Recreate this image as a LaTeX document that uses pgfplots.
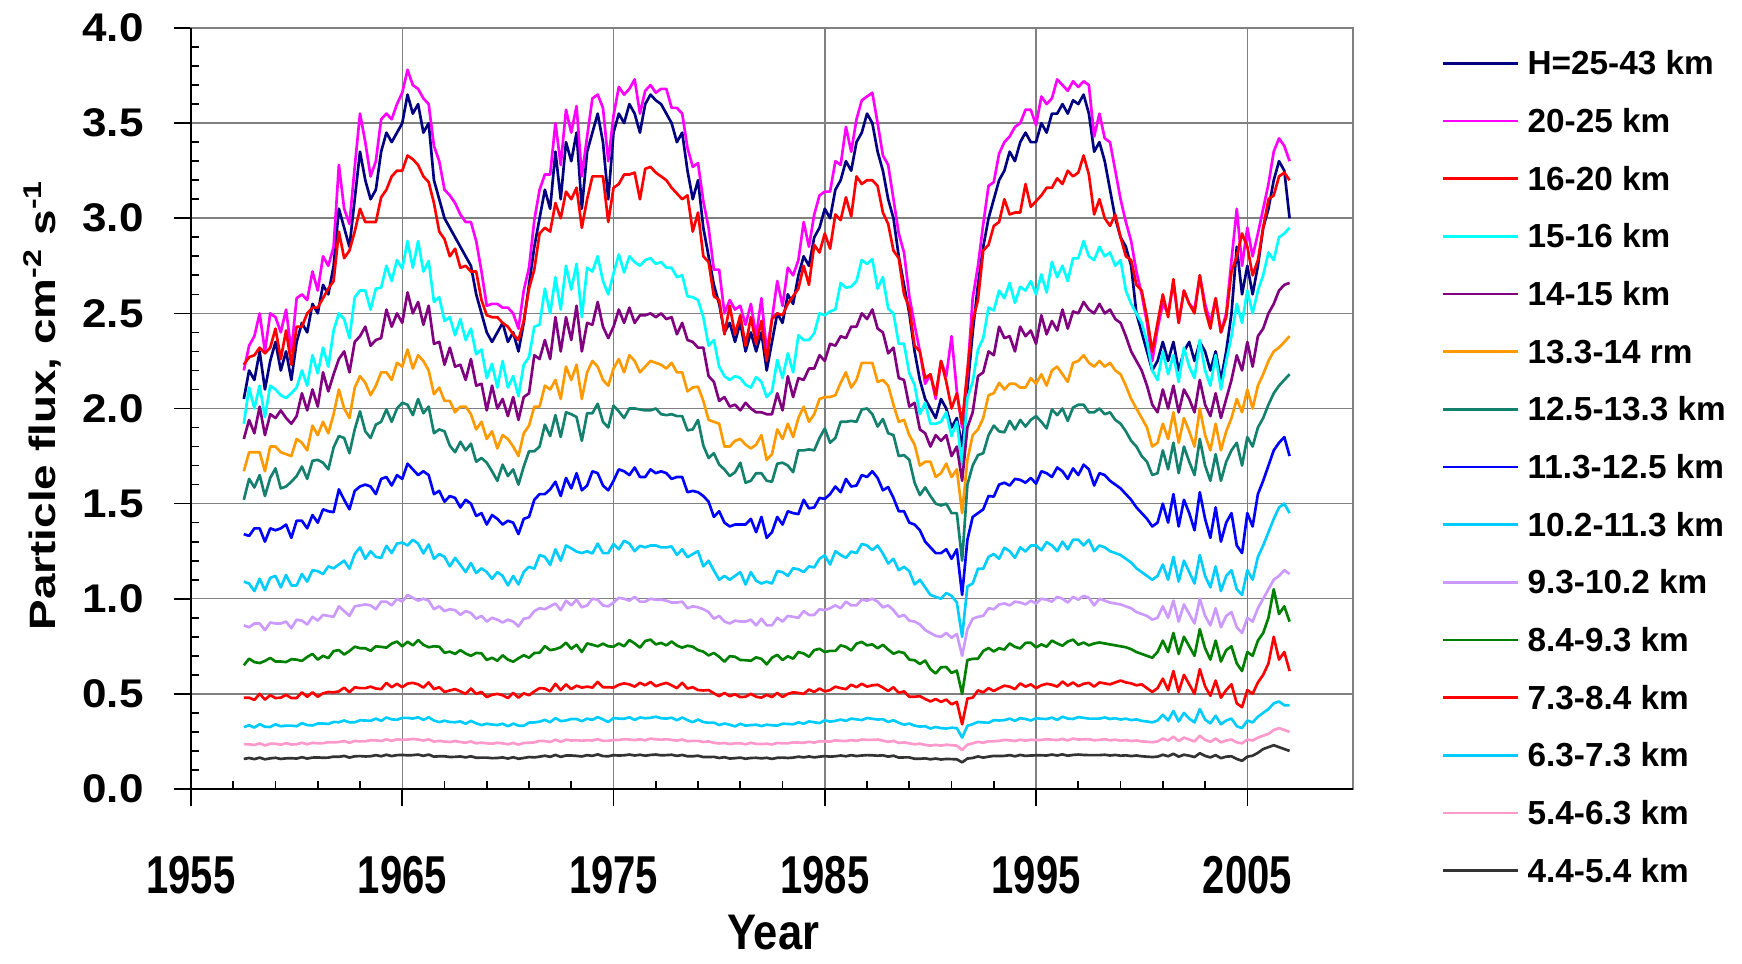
\documentclass[border=0pt]{standalone}
\usepackage{graphicx}
\usepackage{fontspec}
\setmainfont{Liberation Sans}
\usepackage{pgfplots}
\usepackage{pgfplotstable}
\pgfplotsset{compat=1.18}

\definecolor{cH}{RGB}{0,0,128}
\definecolor{cA}{RGB}{255,0,255}
\definecolor{cB}{RGB}{255,0,0}
\definecolor{cC}{RGB}{0,255,255}
\definecolor{cD}{RGB}{128,0,128}
\definecolor{cE}{RGB}{255,153,0}
\definecolor{cF}{RGB}{20,128,110}
\definecolor{cG}{RGB}{0,0,255}
\definecolor{cI}{RGB}{0,204,255}
\definecolor{cJ}{RGB}{204,153,255}
\definecolor{cK}{RGB}{0,128,0}
\definecolor{cL}{RGB}{255,0,0}
\definecolor{cM}{RGB}{0,204,255}
\definecolor{cN}{RGB}{255,153,204}
\definecolor{cO}{RGB}{51,51,51}

% Quarterly particle flux by altitude layer (cm^-2 s^-1)
\pgfplotstableread{
yr N M R C P O T B L V G Rb S K D
1957.50 2.05 2.20 2.23 1.92 1.84 1.67 1.52 1.34 1.09 0.86 0.65 0.48 0.325 0.236 0.158
1957.75 2.20 2.33 2.27 2.11 1.94 1.77 1.63 1.33 1.08 0.85 0.685 0.48 0.335 0.235 0.163
1958.00 2.15 2.38 2.28 2.00 1.87 1.77 1.585 1.37 1.04 0.87 0.667 0.468 0.323 0.231 0.157
1958.25 2.30 2.50 2.32 2.12 2.01 1.77 1.65 1.37 1.105 0.87 0.662 0.50 0.341 0.240 0.165
1958.50 2.10 2.30 2.29 1.955 1.86 1.67 1.54 1.30 1.045 0.835 0.673 0.47 0.327 0.229 0.156
1958.75 2.25 2.50 2.32 2.12 1.97 1.80 1.635 1.37 1.11 0.875 0.689 0.493 0.326 0.238 0.161
1959.00 2.35 2.48 2.42 2.10 1.95 1.80 1.685 1.36 1.12 0.87 0.67 0.478 0.340 0.238 0.164
1959.25 2.20 2.40 2.26 2.07 1.99 1.77 1.58 1.37 1.06 0.87 0.67 0.48 0.33 0.233 0.158
1959.50 2.30 2.52 2.41 2.055 1.95 1.76 1.59 1.39 1.125 0.88 0.667 0.495 0.333 0.241 0.161
1959.75 2.15 2.30 2.23 2.08 1.92 1.75 1.615 1.32 1.07 0.845 0.682 0.478 0.333 0.234 0.162
1960.00 2.35 2.58 2.43 2.11 1.96 1.84 1.645 1.41 1.07 0.89 0.68 0.478 0.330 0.235 0.160
1960.25 2.45 2.60 2.43 2.20 2.08 1.82 1.695 1.41 1.13 0.885 0.673 0.508 0.346 0.243 0.167
1960.50 2.40 2.57 2.50 2.12 1.99 1.78 1.63 1.37 1.09 0.865 0.694 0.485 0.336 0.235 0.160
1960.75 2.55 2.72 2.53 2.28 2.10 1.91 1.725 1.44 1.15 0.905 0.71 0.508 0.334 0.243 0.165
1961.00 2.50 2.62 2.53 2.185 2.01 1.86 1.73 1.40 1.145 0.885 0.68 0.485 0.344 0.240 0.166
1961.25 2.65 2.80 2.58 2.32 2.19 1.93 1.715 1.47 1.13 0.915 0.70 0.503 0.344 0.241 0.164
1961.50 2.60 2.75 2.63 2.22 2.09 1.87 1.68 1.46 1.17 0.91 0.688 0.51 0.342 0.246 0.165
1961.75 2.75 2.85 2.67 2.41 2.18 1.97 1.795 1.455 1.16 0.905 0.725 0.508 0.352 0.245 0.170
1962.00 3.05 3.28 2.93 2.50 2.26 2.10 1.855 1.575 1.18 0.96 0.73 0.513 0.351 0.247 0.169
1962.25 2.95 3.05 2.79 2.47 2.30 2.00 1.845 1.52 1.20 0.935 0.707 0.533 0.360 0.252 0.174
1962.50 2.85 2.97 2.83 2.37 2.19 1.95 1.765 1.47 1.158 0.91 0.725 0.508 0.35 0.243 0.165
1962.75 3.10 3.27 2.93 2.585 2.35 2.11 1.89 1.567 1.235 0.96 0.748 0.535 0.351 0.253 0.172
1963.00 3.35 3.55 3.05 2.62 2.38 2.17 1.985 1.59 1.27 0.965 0.74 0.53 0.361 0.250 0.173
1963.25 3.20 3.40 2.98 2.62 2.43 2.135 1.88 1.60 1.21 0.97 0.74 0.53 0.36 0.251 0.171
1963.50 3.10 3.22 2.98 2.52 2.33 2.07 1.845 1.59 1.25 0.965 0.726 0.538 0.358 0.256 0.172
1963.75 3.15 3.30 2.98 2.63 2.36 2.12 1.915 1.55 1.22 0.945 0.75 0.528 0.37 0.256 0.178
1964.00 3.35 3.52 3.11 2.635 2.37 2.19 1.93 1.63 1.215 0.985 0.747 0.525 0.358 0.252 0.172
1964.25 3.45 3.55 3.15 2.75 2.52 2.19 1.995 1.64 1.278 0.985 0.743 0.558 0.376 0.261 0.180
1964.50 3.40 3.52 3.22 2.67 2.43 2.15 1.93 1.595 1.24 0.965 0.764 0.535 0.366 0.253 0.173
1964.75 3.45 3.60 3.25 2.78 2.50 2.24 2.00 1.65 1.29 1.00 0.775 0.553 0.364 0.261 0.178
1965.00 3.50 3.66 3.25 2.735 2.45 2.22 2.03 1.63 1.295 0.985 0.75 0.535 0.374 0.258 0.179
1965.25 3.65 3.78 3.33 2.88 2.61 2.31 2.02 1.71 1.28 1.02 0.774 0.554 0.374 0.26 0.177
1965.50 3.55 3.70 3.31 2.74 2.50 2.21 1.965 1.68 1.31 1.005 0.755 0.558 0.370 0.263 0.178
1965.75 3.60 3.68 3.28 2.88 2.56 2.28 2.05 1.65 1.29 0.99 0.783 0.55 0.377 0.26 0.181
1966.00 3.45 3.63 3.22 2.72 2.44 2.25 1.975 1.67 1.238 1.00 0.758 0.533 0.363 0.255 0.174
1966.25 3.50 3.60 3.19 2.775 2.54 2.20 2.01 1.65 1.285 0.99 0.745 0.56 0.377 0.261 0.181
1966.50 3.20 3.38 3.08 2.56 2.34 2.075 1.87 1.55 1.21 0.945 0.75 0.525 0.36 0.249 0.170
1966.75 3.10 3.30 2.93 2.585 2.35 2.11 1.89 1.567 1.235 0.96 0.748 0.535 0.351 0.253 0.172
1967.00 3.00 3.15 2.89 2.46 2.23 2.04 1.88 1.51 1.22 0.935 0.716 0.51 0.359 0.249 0.172
1967.25 2.95 3.12 2.80 2.48 2.32 2.04 1.805 1.54 1.17 0.945 0.722 0.518 0.352 0.247 0.168
1967.50 2.90 3.08 2.84 2.385 2.22 1.98 1.77 1.53 1.215 0.94 0.71 0.525 0.351 0.252 0.169
1967.75 2.85 3.02 2.74 2.47 2.23 2.01 1.825 1.48 1.178 0.915 0.73 0.513 0.355 0.247 0.171
1968.00 2.80 2.98 2.75 2.36 2.15 2.01 1.78 1.52 1.14 0.935 0.712 0.50 0.343 0.243 0.166
1968.25 2.75 2.98 2.72 2.42 2.26 1.97 1.815 1.50 1.188 0.925 0.70 0.528 0.358 0.25 0.172
1968.50 2.60 2.88 2.72 2.285 2.12 1.89 1.72 1.435 1.135 0.895 0.715 0.50 0.345 0.24 0.164
1968.75 2.50 2.72 2.57 2.31 2.13 1.93 1.74 1.45 1.16 0.91 0.713 0.51 0.336 0.244 0.165
1969.00 2.40 2.54 2.49 2.16 1.99 1.84 1.715 1.39 1.14 0.88 0.678 0.483 0.343 0.24 0.165
1969.25 2.35 2.55 2.48 2.235 2.12 1.88 1.67 1.44 1.105 0.90 0.69 0.495 0.339 0.238 0.162
1969.50 2.40 2.55 2.48 2.11 2.00 1.79 1.62 1.42 1.14 0.89 0.674 0.50 0.336 0.243 0.163
1969.75 2.45 2.53 2.45 2.25 2.05 1.86 1.705 1.39 1.12 0.875 0.703 0.493 0.343 0.24 0.166
1970.00 2.35 2.53 2.43 2.11 1.96 1.84 1.645 1.41 1.07 0.89 0.68 0.478 0.33 0.235 0.160
1970.25 2.40 2.50 2.39 2.17 2.06 1.80 1.68 1.40 1.12 0.88 0.669 0.505 0.344 0.242 0.167
1970.50 2.30 2.42 2.36 2.065 1.94 1.75 1.60 1.34 1.075 0.855 0.687 0.48 0.333 0.233 0.159
1970.75 2.45 2.62 2.46 2.23 2.06 1.87 1.695 1.42 1.14 0.895 0.703 0.503 0.332 0.242 0.163
1971.00 2.65 2.74 2.63 2.27 2.08 1.91 1.775 1.43 1.168 0.90 0.69 0.493 0.349 0.243 0.168
1971.25 2.85 2.99 2.73 2.43 2.28 2.01 1.775 1.52 1.158 0.935 0.715 0.513 0.35 0.245 0.166
1971.50 3.00 3.15 2.92 2.44 2.26 2.01 1.80 1.55 1.23 0.95 0.716 0.53 0.354 0.253 0.170
1971.75 3.15 3.23 2.95 2.63 2.36 2.12 1.915 1.55 1.22 0.945 0.751 0.528 0.363 0.252 0.175
1972.00 3.05 3.23 2.93 2.50 2.26 2.10 1.855 1.575 1.178 0.96 0.73 0.513 0.351 0.247 0.169
1972.25 3.35 3.50 3.08 2.69 2.48 2.15 1.965 1.615 1.26 0.975 0.735 0.553 0.373 0.259 0.179
1972.50 3.10 3.28 3.00 2.52 2.30 2.05 1.85 1.54 1.20 0.94 0.745 0.52 0.357 0.248 0.169
1972.75 3.40 3.57 3.14 2.75 2.48 2.22 1.98 1.635 1.28 0.99 0.769 0.55 0.36 0.259 0.176
1973.00 3.30 3.45 3.10 2.625 2.36 2.15 1.97 1.58 1.265 0.965 0.737 0.525 0.368 0.255 0.176
1973.25 3.45 3.59 3.16 2.76 2.54 2.23 1.955 1.66 1.248 0.995 0.758 0.543 0.368 0.256 0.174
1973.50 3.05 3.22 2.95 2.48 2.30 2.05 1.83 1.57 1.24 0.955 0.72 0.533 0.356 0.254 0.171
1973.75 3.35 3.43 3.10 2.74 2.45 2.19 1.975 1.595 1.25 0.965 0.765 0.538 0.37 0.256 0.178
1974.00 3.45 3.63 3.22 2.72 2.44 2.25 1.975 1.67 1.238 1.00 0.758 0.533 0.363 0.255 0.174
1974.25 3.55 3.65 3.22 2.80 2.56 2.22 2.025 1.66 1.29 0.995 0.75 0.563 0.378 0.262 0.182
1974.50 3.40 3.58 3.22 2.67 2.43 2.15 1.93 1.595 1.24 0.965 0.764 0.535 0.366 0.253 0.173
1974.75 3.10 3.30 2.98 2.60 2.37 2.12 1.90 1.57 1.24 0.96 0.75 0.535 0.352 0.253 0.172
1975.00 3.45 3.54 3.16 2.71 2.43 2.21 2.015 1.62 1.288 0.98 0.748 0.533 0.373 0.258 0.178
1975.25 3.55 3.69 3.18 2.81 2.52 2.26 1.985 1.68 1.26 1.005 0.765 0.548 0.37 0.257 0.176
1975.50 3.50 3.65 3.23 2.715 2.45 2.19 1.95 1.67 1.305 1.00 0.75 0.555 0.369 0.262 0.177
1975.75 3.60 3.68 3.23 2.80 2.53 2.28 2.00 1.65 1.29 0.99 0.783 0.55 0.377 0.26 0.181
1976.00 3.55 3.73 3.24 2.77 2.45 2.25 2.00 1.69 1.25 1.01 0.765 0.538 0.363 0.257 0.176
1976.25 3.45 3.55 3.10 2.75 2.49 2.19 1.995 1.64 1.278 0.985 0.743 0.558 0.376 0.261 0.180
1976.50 3.60 3.67 3.26 2.78 2.49 2.22 1.99 1.64 1.27 0.985 0.778 0.545 0.372 0.256 0.175
1976.75 3.65 3.70 3.27 2.79 2.50 2.25 1.99 1.68 1.28 1.00 0.785 0.563 0.374 0.265 0.179
1977.00 3.62 3.66 3.24 2.76 2.48 2.24 2.00 1.66 1.28 0.995 0.76 0.54 0.38 0.261 0.181
1977.25 3.60 3.68 3.22 2.77 2.50 2.23 1.97 1.67 1.27 0.995 0.768 0.55 0.372 0.259 0.177
1977.50 3.55 3.68 3.20 2.74 2.47 2.21 1.965 1.66 1.27 0.99 0.755 0.558 0.37 0.262 0.178
1977.75 3.50 3.58 3.16 2.74 2.48 2.24 1.97 1.63 1.275 0.98 0.775 0.545 0.375 0.258 0.180
1978.00 3.40 3.58 3.13 2.69 2.39 2.19 1.96 1.64 1.23 0.98 0.754 0.53 0.361 0.254 0.174
1978.25 3.45 3.55 3.10 2.70 2.45 2.19 1.96 1.64 1.26 0.985 0.743 0.558 0.376 0.26 0.179
1978.50 3.25 3.37 3.12 2.59 2.36 2.09 1.885 1.56 1.218 0.95 0.753 0.528 0.362 0.251 0.172
1978.75 3.10 3.27 2.93 2.585 2.35 2.11 1.89 1.567 1.235 0.96 0.748 0.535 0.351 0.253 0.172
1979.00 3.20 3.29 3.03 2.57 2.32 2.115 1.94 1.56 1.25 0.955 0.73 0.52 0.365 0.253 0.175
1979.25 2.95 3.09 2.80 2.48 2.32 2.04 1.805 1.54 1.17 0.945 0.722 0.518 0.352 0.247 0.168
1979.50 2.80 2.95 2.77 2.33 2.17 1.94 1.74 1.51 1.20 0.93 0.702 0.52 0.348 0.25 0.168
1979.75 2.65 2.73 2.59 2.36 2.14 1.93 1.765 1.43 1.148 0.895 0.715 0.503 0.349 0.243 0.169
1980.00 2.55 2.73 2.57 2.22 2.04 1.92 1.705 1.46 1.10 0.91 0.695 0.488 0.336 0.239 0.163
1980.25 2.40 2.50 2.39 2.17 2.06 1.80 1.68 1.40 1.12 0.88 0.669 0.505 0.344 0.242 0.167
1980.50 2.45 2.57 2.54 2.15 2.01 1.80 1.645 1.38 1.10 0.87 0.698 0.488 0.338 0.236 0.16
1980.75 2.35 2.52 2.39 2.17 2.02 1.83 1.665 1.39 1.12 0.885 0.695 0.498 0.329 0.24 0.162
1981.00 2.45 2.54 2.49 2.16 1.99 1.84 1.715 1.39 1.14 0.88 0.678 0.483 0.343 0.24 0.165
1981.25 2.30 2.44 2.33 2.125 2.03 1.81 1.61 1.39 1.075 0.88 0.677 0.485 0.333 0.235 0.159
1981.50 2.40 2.55 2.48 2.11 2.00 1.79 1.62 1.42 1.14 0.89 0.674 0.50 0.336 0.243 0.163
1981.75 2.30 2.38 2.34 2.165 1.98 1.81 1.66 1.35 1.095 0.86 0.692 0.485 0.338 0.237 0.164
1982.00 2.40 2.58 2.46 2.14 1.98 1.86 1.66 1.43 1.08 0.895 0.684 0.48 0.331 0.236 0.161
1982.25 2.20 2.30 2.25 2.06 1.97 1.73 1.62 1.32 1.09 0.86 0.655 0.495 0.338 0.238 0.164
1982.50 2.35 2.47 2.47 2.09 1.97 1.76 1.615 1.35 1.08 0.86 0.69 0.483 0.335 0.234 0.158
1982.75 2.50 2.67 2.50 2.255 2.08 1.89 1.71 1.43 1.145 0.90 0.705 0.505 0.333 0.242 0.164
1983.00 2.45 2.54 2.49 2.16 1.99 1.84 1.715 1.39 1.14 0.88 0.678 0.483 0.343 0.24 0.165
1983.25 2.60 2.74 2.55 2.29 2.17 1.92 1.70 1.46 1.12 0.91 0.698 0.50 0.342 0.24 0.163
1983.50 2.55 2.70 2.59 2.19 2.06 1.85 1.665 1.45 1.16 0.905 0.685 0.508 0.34 0.245 0.165
1983.75 2.70 2.78 2.63 2.385 2.16 1.95 1.78 1.445 1.155 0.90 0.72 0.505 0.35 0.244 0.17
1984.00 2.80 2.98 2.75 2.36 2.15 2.01 1.78 1.52 1.14 0.935 0.712 0.50 0.343 0.243 0.166
1984.25 2.75 2.85 2.65 2.36 2.21 1.93 1.785 1.475 1.17 0.915 0.695 0.523 0.355 0.248 0.171
1984.50 2.90 3.02 2.86 2.395 2.21 1.97 1.78 1.48 1.165 0.915 0.73 0.51 0.351 0.244 0.166
1984.75 2.95 3.12 2.82 2.50 2.28 2.05 1.845 1.53 1.21 0.945 0.737 0.528 0.346 0.251 0.17
1985.00 3.05 3.14 2.92 2.49 2.25 2.06 1.895 1.525 1.228 0.94 0.72 0.513 0.361 0.25 0.173
1985.25 3.00 3.14 2.84 2.51 2.34 2.06 1.82 1.55 1.18 0.95 0.726 0.52 0.354 0.249 0.17
1985.50 3.15 3.30 3.02 2.52 2.33 2.07 1.845 1.59 1.25 0.965 0.726 0.538 0.358 0.256 0.172
1985.75 3.20 3.28 2.99 2.66 2.38 2.135 1.93 1.56 1.23 0.95 0.755 0.53 0.365 0.253 0.176
1986.00 3.30 3.48 3.11 2.635 2.37 2.19 1.93 1.63 1.215 0.985 0.747 0.525 0.358 0.252 0.172
1986.25 3.25 3.35 3.01 2.64 2.43 2.11 1.935 1.59 1.248 0.965 0.728 0.548 0.37 0.257 0.178
1986.50 3.40 3.52 3.22 2.67 2.43 2.15 1.93 1.595 1.24 0.965 0.764 0.535 0.366 0.253 0.173
1986.75 3.45 3.62 3.18 2.78 2.50 2.24 1.995 1.65 1.288 0.995 0.773 0.553 0.362 0.26 0.176
1987.00 3.55 3.64 3.20 2.76 2.47 2.24 2.00 1.64 1.28 0.99 0.755 0.538 0.373 0.258 0.178
1987.25 3.50 3.66 3.20 2.785 2.52 2.24 1.97 1.67 1.255 1.00 0.76 0.545 0.369 0.258 0.177
1987.50 3.35 3.50 3.17 2.63 2.42 2.14 1.905 1.635 1.28 0.985 0.74 0.548 0.365 0.26 0.175
1987.75 3.25 3.33 3.03 2.69 2.40 2.15 1.945 1.57 1.238 0.955 0.758 0.533 0.367 0.254 0.177
1988.00 3.10 3.28 2.97 2.525 2.29 2.12 1.87 1.587 1.185 0.965 0.733 0.515 0.352 0.248 0.17
1988.25 3.00 3.10 2.83 2.50 2.32 2.02 1.86 1.53 1.21 0.94 0.711 0.535 0.362 0.253 0.175
1988.50 2.80 2.92 2.79 2.34 2.16 1.93 1.75 1.46 1.15 0.905 0.722 0.505 0.348 0.242 0.165
1988.75 2.65 2.82 2.60 2.34 2.15 1.94 1.755 1.46 1.168 0.915 0.715 0.513 0.338 0.245 0.166
1989.00 2.50 2.59 2.53 2.185 2.01 1.86 1.73 1.40 1.145 0.885 0.68 0.485 0.344 0.24 0.166
1989.25 2.30 2.44 2.33 2.125 2.03 1.81 1.61 1.39 1.075 0.88 0.677 0.485 0.333 0.235 0.159
1989.50 2.15 2.30 2.30 1.97 1.89 1.70 1.545 1.36 1.10 0.865 0.657 0.488 0.328 0.238 0.159
1989.75 2.05 2.13 2.16 2.03 1.87 1.72 1.585 1.30 1.06 0.835 0.675 0.473 0.33 0.232 0.161
1990.00 2.00 2.18 2.18 1.92 1.80 1.72 1.54 1.27 1.02 0.82 0.63 0.46 0.318 0.228 0.156
1990.25 1.95 2.05 2.07 1.92 1.86 1.64 1.50 1.24 1.01 0.805 0.607 0.473 0.326 0.232 0.16
1990.50 2.05 2.25 2.25 1.93 1.83 1.66 1.49 1.24 1.00 0.80 0.64 0.458 0.32 0.228 0.155
1990.75 2.00 2.17 2.14 1.98 1.86 1.71 1.50 1.26 1.03 0.82 0.641 0.47 0.318 0.233 0.158
1991.00 1.90 2.38 2.00 1.855 1.75 1.64 1.45 1.21 1.015 0.795 0.61 0.445 0.322 0.23 0.157
1991.25 1.95 2.09 2.08 1.93 1.80 1.68 1.45 1.26 0.98 0.815 0.622 0.458 0.32 0.228 0.156
1991.50 1.80 1.90 1.92 1.70 1.62 1.45 1.20 1.02 0.80 0.70 0.50 0.34 0.27 0.205 0.14
1991.75 2.10 2.18 2.20 2.055 1.90 1.73 1.60 1.31 1.065 0.84 0.678 0.475 0.332 0.233 0.16
1992.00 2.40 2.58 2.46 2.14 1.98 1.86 1.70 1.43 1.08 0.895 0.684 0.48 0.341 0.24 0.163
1992.25 2.65 2.75 2.57 2.31 2.17 1.89 1.755 1.45 1.158 0.905 0.685 0.518 0.352 0.248 0.171
1992.50 2.85 2.97 2.83 2.37 2.19 1.95 1.765 1.47 1.158 0.91 0.725 0.508 0.35 0.243 0.165
1992.75 3.00 3.17 2.86 2.53 2.30 2.07 1.86 1.54 1.22 0.95 0.741 0.53 0.348 0.251 0.17
1993.00 3.10 3.19 2.96 2.515 2.28 2.08 1.91 1.537 1.235 0.945 0.723 0.515 0.362 0.251 0.174
1993.25 3.20 3.34 2.98 2.62 2.43 2.135 1.88 1.60 1.21 0.97 0.74 0.53 0.36 0.253 0.173
1993.50 3.25 3.40 3.10 2.58 2.37 2.10 1.875 1.61 1.268 0.975 0.733 0.543 0.362 0.258 0.174
1993.75 3.35 3.43 3.02 2.66 2.38 2.13 1.935 1.595 1.25 0.965 0.765 0.538 0.37 0.256 0.178
1994.00 3.30 3.48 3.03 2.555 2.30 2.13 1.89 1.63 1.215 0.985 0.747 0.525 0.358 0.252 0.172
1994.25 3.40 3.50 3.03 2.64 2.43 2.11 1.94 1.625 1.27 0.98 0.739 0.555 0.372 0.259 0.179
1994.50 3.45 3.57 3.18 2.62 2.38 2.11 1.905 1.61 1.248 0.97 0.768 0.538 0.368 0.254 0.174
1994.75 3.40 3.57 3.06 2.67 2.41 2.16 1.94 1.635 1.28 0.99 0.769 0.55 0.36 0.259 0.176
1995.00 3.40 3.49 3.09 2.60 2.34 2.13 1.96 1.605 1.28 0.975 0.744 0.53 0.372 0.257 0.177
1995.25 3.50 3.64 3.12 2.705 2.49 2.18 1.93 1.67 1.255 1.00 0.76 0.545 0.369 0.258 0.177
1995.50 3.45 3.60 3.16 2.61 2.39 2.12 1.895 1.66 1.298 0.995 0.748 0.553 0.368 0.262 0.176
1995.75 3.55 3.63 3.16 2.77 2.46 2.20 1.995 1.64 1.28 0.985 0.78 0.548 0.375 0.259 0.181
1996.00 3.55 3.73 3.21 2.69 2.41 2.22 1.965 1.69 1.25 1.01 0.765 0.538 0.363 0.257 0.176
1996.25 3.60 3.70 3.18 2.75 2.52 2.18 2.00 1.67 1.30 1.00 0.753 0.565 0.38 0.263 0.182
1996.50 3.55 3.67 3.25 2.67 2.42 2.14 1.935 1.63 1.26 0.98 0.775 0.543 0.37 0.255 0.175
1996.75 3.62 3.72 3.22 2.79 2.51 2.24 2.005 1.685 1.31 1.01 0.785 0.56 0.368 0.265 0.179
1997.00 3.60 3.69 3.24 2.79 2.50 2.25 2.02 1.65 1.31 0.995 0.758 0.54 0.378 0.26 0.181
1997.25 3.65 3.72 3.33 2.88 2.56 2.28 2.02 1.705 1.28 1.015 0.77 0.553 0.374 0.261 0.179
1997.50 3.55 3.70 3.23 2.80 2.52 2.24 1.98 1.68 1.31 1.005 0.755 0.558 0.37 0.262 0.178
1997.75 3.35 3.43 3.02 2.78 2.50 2.22 1.98 1.595 1.25 0.965 0.765 0.538 0.37 0.256 0.178
1998.00 3.40 3.55 3.10 2.85 2.55 2.25 2.00 1.66 1.28 1.00 0.77 0.56 0.37 0.258 0.178
1998.25 3.30 3.42 3.00 2.80 2.50 2.22 1.97 1.65 1.27 0.99 0.765 0.555 0.376 0.262 0.18
1998.50 3.15 3.40 2.96 2.82 2.52 2.24 1.98 1.62 1.25 0.98 0.76 0.55 0.368 0.256 0.176
1998.75 3.00 3.25 3.02 2.75 2.47 2.20 1.94 1.60 1.24 0.975 0.755 0.56 0.372 0.259 0.179
1999.00 2.90 3.10 2.90 2.78 2.45 2.18 1.92 1.58 1.23 0.97 0.75 0.57 0.365 0.254 0.175
1999.25 2.85 2.98 2.80 2.62 2.38 2.12 1.88 1.55 1.21 0.96 0.745 0.56 0.37 0.257 0.177
1999.50 2.75 2.88 2.78 2.55 2.30 2.05 1.83 1.52 1.19 0.95 0.735 0.555 0.362 0.252 0.173
1999.75 2.50 2.72 2.65 2.50 2.25 2.00 1.80 1.48 1.16 0.93 0.72 0.545 0.366 0.255 0.176
2000.00 2.40 2.60 2.62 2.45 2.20 1.95 1.75 1.45 1.14 0.92 0.71 0.55 0.358 0.25 0.172
2000.25 2.30 2.45 2.48 2.35 2.12 1.90 1.72 1.42 1.12 0.91 0.70 0.53 0.355 0.248 0.17
2000.50 2.20 2.25 2.30 2.20 2.02 1.80 1.65 1.38 1.10 0.89 0.69 0.51 0.35 0.246 0.168
2000.75 2.25 2.42 2.45 2.15 1.98 1.82 1.66 1.40 1.12 0.90 0.72 0.53 0.36 0.25 0.17
2001.00 2.35 2.55 2.60 2.30 2.10 1.92 1.78 1.50 1.18 0.96 0.78 0.58 0.39 0.265 0.18
2001.25 2.25 2.50 2.48 2.18 2.00 1.84 1.68 1.40 1.10 0.90 0.72 0.52 0.36 0.255 0.172
2001.50 2.35 2.66 2.68 2.28 2.12 1.98 1.82 1.55 1.22 0.99 0.82 0.62 0.41 0.275 0.185
2001.75 2.20 2.45 2.45 2.14 1.98 1.82 1.66 1.38 1.09 0.88 0.71 0.51 0.355 0.252 0.17
2002.00 2.30 2.62 2.62 2.32 2.10 1.95 1.80 1.52 1.20 0.97 0.80 0.60 0.40 0.27 0.18
2002.25 2.35 2.55 2.55 2.22 2.05 1.88 1.72 1.45 1.14 0.92 0.75 0.55 0.37 0.26 0.175
2002.50 2.25 2.52 2.50 2.16 1.98 1.80 1.65 1.36 1.08 0.87 0.70 0.50 0.35 0.25 0.168
2002.75 2.35 2.70 2.70 2.36 2.15 2.00 1.84 1.56 1.23 1.00 0.84 0.63 0.42 0.28 0.188
2003.00 2.30 2.55 2.52 2.20 2.02 1.86 1.70 1.42 1.12 0.91 0.74 0.54 0.365 0.258 0.174
2003.25 2.20 2.45 2.42 2.12 1.96 1.78 1.62 1.32 1.06 0.86 0.68 0.49 0.345 0.248 0.166
2003.50 2.30 2.58 2.58 2.28 2.08 1.92 1.76 1.48 1.17 0.95 0.78 0.57 0.385 0.265 0.178
2003.75 2.15 2.40 2.40 2.10 1.95 1.78 1.62 1.30 1.04 0.85 0.67 0.48 0.34 0.245 0.162
2004.00 2.30 2.50 2.48 2.25 2.05 1.88 1.72 1.40 1.12 0.91 0.73 0.52 0.36 0.255 0.17
2004.25 2.50 2.78 2.72 2.38 2.15 1.95 1.78 1.45 1.15 0.93 0.75 0.55 0.37 0.26 0.172
2004.50 2.85 3.05 2.80 2.55 2.28 2.05 1.82 1.28 1.05 0.85 0.66 0.45 0.33 0.245 0.158
2004.75 2.60 2.75 2.92 2.45 2.20 1.98 1.70 1.24 1.02 0.82 0.62 0.43 0.32 0.24 0.148
2005.00 2.75 2.95 2.85 2.62 2.35 2.10 1.85 1.45 1.15 0.90 0.72 0.52 0.36 0.26 0.17
2005.25 2.60 2.80 2.70 2.50 2.22 2.00 1.80 1.38 1.10 0.88 0.70 0.50 0.35 0.255 0.175
2005.50 2.75 2.92 2.78 2.62 2.38 2.12 1.90 1.55 1.22 0.95 0.78 0.56 0.38 0.27 0.19
2005.75 2.95 3.05 2.95 2.70 2.42 2.18 1.95 1.62 1.28 1.00 0.82 0.60 0.40 0.28 0.21
2006.00 3.05 3.18 3.10 2.82 2.50 2.25 2.02 1.70 1.35 1.05 0.90 0.66 0.42 0.29 0.22
2006.25 3.20 3.35 3.12 2.78 2.55 2.30 2.08 1.78 1.42 1.10 1.05 0.80 0.45 0.31 0.23
2006.50 3.30 3.42 3.22 2.90 2.62 2.32 2.12 1.82 1.48 1.12 0.92 0.68 0.46 0.32 0.22
2006.75 3.25 3.38 3.24 2.92 2.65 2.35 2.15 1.85 1.50 1.15 0.96 0.72 0.44 0.31 0.21
2007.00 3.00 3.30 3.20 2.95 2.66 2.38 2.18 1.75 1.45 1.13 0.88 0.62 0.44 0.30 0.20
}\fluxdata

\newcommand\xtl[1]{\scalebox{0.75}[1]{#1}}
\newcommand\ytl[1]{\scalebox{1.1}[1]{#1}}

\begin{document}
\begin{tikzpicture}
\path (0pt,0pt) rectangle (522.6pt,289.2pt);
\begin{axis}[
  at={(57.3pt,52.5pt)}, anchor=south west,
  width=348.6pt, height=228.3pt, scale only axis,
  xmin=1955, xmax=2010, ymin=0, ymax=4,
  xtick={1955,1965,1975,1985,1995,2005},
  xticklabels={\xtl{1955},\xtl{1965},\xtl{1975},\xtl{1985},\xtl{1995},\xtl{2005}},
  ytick={0,0.5,1,1.5,2,2.5,3,3.5,4},
  yticklabels={\ytl{0.0},\ytl{0.5},\ytl{1.0},\ytl{1.5},\ytl{2.0},\ytl{2.5},\ytl{3.0},\ytl{3.5},\ytl{4.0}},
  minor x tick num=4, minor y tick num=4,
  tick pos=left, tick align=outside,
  major tick length=5pt, minor tick length=-2.4pt,
  tick style={black, line width=0.5pt},
  xmajorgrids, ymajorgrids,
  major grid style={draw=black!50, line width=0.45pt},
  axis line style={draw=black!50, line width=0.6pt},
  xticklabel style={font=\bfseries\fontsize{16}{19}\selectfont, anchor=center, inner sep=0pt, yshift=-20.7pt},
  yticklabel style={font=\bfseries\fontsize{12}{14}\selectfont, anchor=east, inner sep=0pt, xshift=-9pt},
  xlabel={\scalebox{0.87}[1]{Year}},
  xlabel style={at={(axis description cs:0.501,-0.189)}, anchor=center, inner sep=0pt, font=\bfseries\fontsize{15}{18}\selectfont},
  ylabel={\scalebox{1.25}[1]{Particle flux, cm\textsuperscript{-2} s\textsuperscript{-1}}},
  ylabel style={at={(axis description cs:-0.128,0.505)}, anchor=center, inner sep=0pt, font=\bfseries\fontsize{11}{13}\selectfont},
  every axis plot/.append style={line width=0.8pt, line join=round, no markers},
  legend cell align=left,
  legend style={draw=none, fill=none, at={(1.0766,0.9693)}, anchor=north west,
    inner sep=0pt, outer sep=0pt, row sep=8.3pt, column sep=2.4pt,
    font=\bfseries\fontsize{10}{12}\selectfont,
    nodes={inner sep=0pt, anchor=base west, text height=7pt, text depth=2pt}},
  legend image code/.code={\draw[#1] (0pt,3.4pt) -- (22.5pt,3.4pt);},
  extra description/.code={\draw[black, line width=0.7pt] (rel axis cs:0,1) -- (rel axis cs:0,0) -- (rel axis cs:1,0);},
]
\addplot[cH] table[x=yr, y=N] {\fluxdata};
\addlegendentry{H=25-43 km}
\addplot[cA] table[x=yr, y=M] {\fluxdata};
\addlegendentry{20-25 km}
\addplot[cB] table[x=yr, y=R] {\fluxdata};
\addlegendentry{16-20 km}
\addplot[cC] table[x=yr, y=C] {\fluxdata};
\addlegendentry{15-16 km}
\addplot[cD] table[x=yr, y=P] {\fluxdata};
\addlegendentry{14-15 km}
\addplot[cE] table[x=yr, y=O] {\fluxdata};
\addlegendentry{13.3-14 rm}
\addplot[cF] table[x=yr, y=T] {\fluxdata};
\addlegendentry{12.5-13.3 km}
\addplot[cG] table[x=yr, y=B] {\fluxdata};
\addlegendentry{11.3-12.5 km}
\addplot[cI] table[x=yr, y=L] {\fluxdata};
\addlegendentry{10.2-11.3 km}
\addplot[cJ] table[x=yr, y=V] {\fluxdata};
\addlegendentry{9.3-10.2 km}
\addplot[cK] table[x=yr, y=G] {\fluxdata};
\addlegendentry{8.4-9.3 km}
\addplot[cL] table[x=yr, y=Rb] {\fluxdata};
\addlegendentry{7.3-8.4 km}
\addplot[cM] table[x=yr, y=S] {\fluxdata};
\addlegendentry{6.3-7.3 km}
\addplot[cN] table[x=yr, y=K] {\fluxdata};
\addlegendentry{5.4-6.3 km}
\addplot[cO] table[x=yr, y=D] {\fluxdata};
\addlegendentry{4.4-5.4 km}
\end{axis}
\end{tikzpicture}
\end{document}
